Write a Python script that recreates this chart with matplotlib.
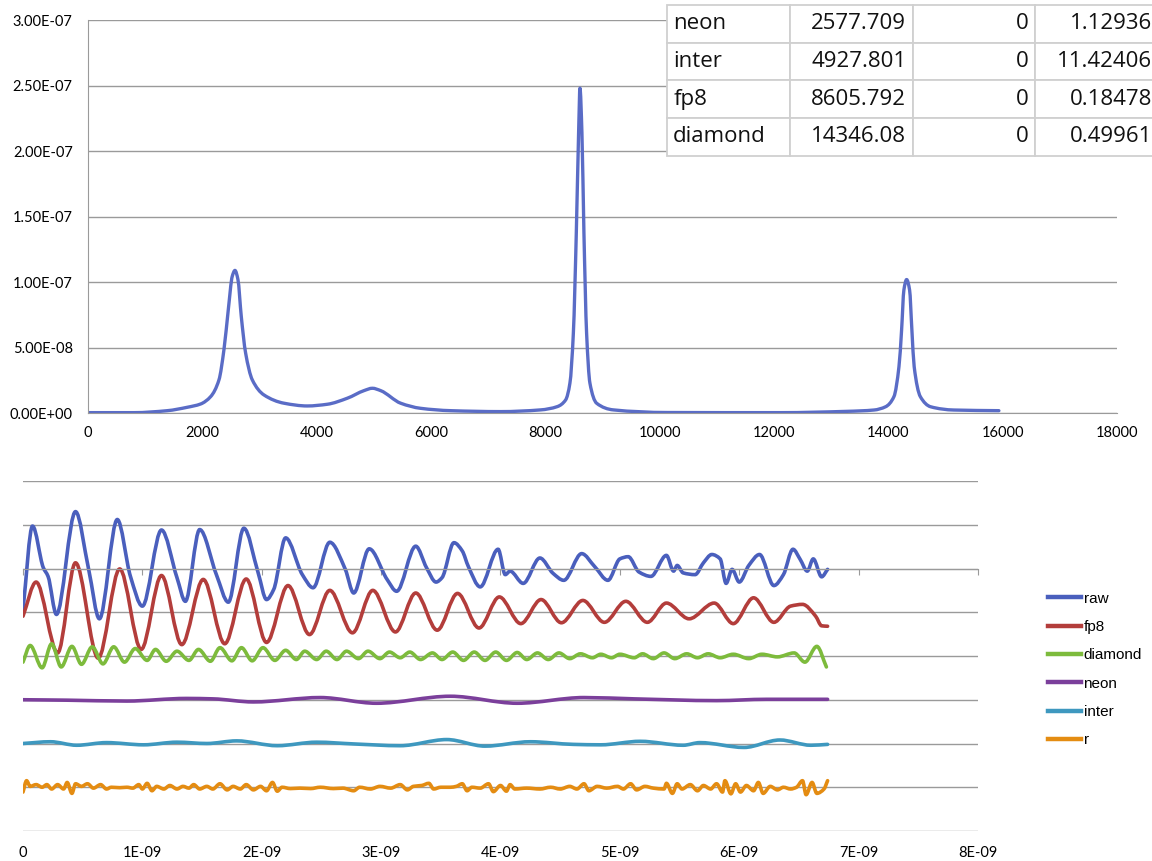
import numpy as np
import matplotlib
matplotlib.use("Agg")
import matplotlib.pyplot as plt
from matplotlib.path import Path
from matplotlib.patches import PathPatch
from matplotlib.lines import Line2D
from matplotlib.ticker import FuncFormatter, MultipleLocator
from matplotlib.table import Table

plt.rcParams["font.family"] = ["Lato", "DejaVu Sans"]

# ---- top: spectrum (wavenumber, intensity in 1e-8) ----
spec_x = [0, 805, 1387, 1737, 1970, 2145, 2291, 2378, 2454, 2524, 2571, 2623, 2681,
          2757, 2874, 3078, 3428, 3836, 4186, 4536, 4828, 4974, 5119, 5469, 5819,
          6344, 7219, 7918, 8209, 8355, 8430, 8490, 8542, 8582, 8606, 8640, 8675,
          8722, 8780, 8897, 9190, 10134, 12115, 13282, 13748, 13952, 14098, 14186,
          14232, 14272, 14320, 14372, 14412, 14452, 14560, 14739, 15147, 15934]
spec_y = [0.05, 0.05, 0.2, 0.46, 0.71, 1.27, 2.55, 4.85, 7.9, 10.46, 10.9, 10.2, 7.4,
          4.6, 2.55, 1.4, 0.77, 0.56, 0.69, 1.15, 1.73, 1.91, 1.73, 0.77, 0.38,
          0.2, 0.13, 0.26, 0.51, 1.02, 2.3, 6.1, 13.8, 21.4, 24.8, 21.4, 13.8,
          6.1, 2.3, 0.77, 0.26, 0.06, 0.05, 0.15, 0.25, 0.5, 1.27, 3.56,
          6.36, 9.4, 10.2, 9.4, 6.36, 3.56, 1.27, 0.5, 0.25, 0.2]

# fit table
tbl_names = ["neon", "inter", "fp8", "diamond"]
tbl_freq = ["2577.709", "4927.801", "8605.792", "14346.08"]
tbl_zero = ["0", "0", "0", "0"]
tbl_width = ["1.12936", "11.42406", "0.18478", "0.49961"]

# ---- bottom: time traces (t in ns, value relative to trace baseline) ----
raw_t = [0.00, 0.08, 0.17, 0.21, 0.28, 0.44, 0.55, 0.64, 0.79, 0.90, 1.00, 1.16, 1.29,
         1.36, 1.48, 1.62, 1.72, 1.85, 1.97, 2.04, 2.10, 2.20, 2.34, 2.43, 2.57, 2.70,
         2.77, 2.90, 3.05, 3.13, 3.29, 3.38, 3.46, 3.51, 3.61, 3.68, 3.73, 3.83, 3.98,
         4.04, 4.08, 4.19, 4.33, 4.44, 4.53, 4.68, 4.79, 4.90, 5.00, 5.07, 5.16, 5.26,
         5.39, 5.45, 5.48, 5.53, 5.63, 5.70, 5.77, 5.84, 5.89, 5.94, 6.00, 6.08, 6.17,
         6.29, 6.37, 6.45, 6.51, 6.57, 6.62, 6.69, 6.74]
raw_v = [-0.94, 0.97, 0.02, -0.18, -1.05, 1.30, -0.02, -1.15, 1.12, -0.18, -0.86, 0.88, -0.21,
         -0.75, 0.89, -0.14, -0.77, 0.92, -0.10, -0.71, -0.48, 0.70, -0.14, -0.44, 0.60, -0.02,
         -0.56, 0.45, -0.25, -0.52, 0.51, 0.02, -0.31, -0.21, 0.59, 0.40, 0.05, -0.42, 0.44,
         -0.14, -0.06, -0.34, 0.24, -0.11, -0.27, 0.34, 0.04, -0.27, 0.22, 0.27, -0.08, -0.18,
         0.30, -0.06, 0.07, -0.10, -0.14, 0.13, 0.32, 0.22, -0.34, -0.02, -0.31, 0.07, 0.32,
         -0.39, -0.14, 0.44, 0.21, -0.06, 0.22, -0.19, -0.02]

fp8_t = [0.00, 0.11, 0.29, 0.44, 0.63, 0.81, 0.99, 1.16, 1.33, 1.51, 1.69, 1.87, 2.04,
         2.22, 2.40, 2.57, 2.76, 2.93, 3.12, 3.29, 3.47, 3.64, 3.82, 3.99, 4.17, 4.34,
         4.51, 4.69, 4.87, 5.05, 5.23, 5.39, 5.58, 5.79, 5.95, 6.12, 6.29, 6.43, 6.53,
         6.64, 6.69, 6.74]
fp8_v = [-0.09, 0.69, -0.93, 1.13, -1.05, 0.99, -0.85, 0.84, -0.74, 0.75, -0.72, 0.76, -0.69,
         0.61, -0.51, 0.50, -0.47, 0.50, -0.45, 0.44, -0.41, 0.43, -0.36, 0.35, -0.26, 0.29,
         -0.24, 0.27, -0.23, 0.25, -0.23, 0.21, -0.15, 0.21, -0.26, 0.33, -0.23, 0.14, 0.18,
         -0.09, -0.31, -0.32]

diamond_t = [0.00, 0.06, 0.16, 0.24, 0.32, 0.41, 0.49, 0.58, 0.67, 0.76, 0.85, 0.94, 1.04,
             1.11, 1.20, 1.29, 1.39, 1.47, 1.57, 1.65, 1.75, 1.83, 1.92, 2.01, 2.11, 2.20,
             2.29, 2.36, 2.46, 2.54, 2.63, 2.71, 2.81, 2.89, 2.99, 3.07, 3.16, 3.24, 3.33,
             3.43, 3.51, 3.60, 3.69, 3.78, 3.87, 3.96, 4.05, 4.14, 4.22, 4.31, 4.40, 4.49,
             4.58, 4.67, 4.77, 4.84, 4.93, 5.00, 5.12, 5.19, 5.28, 5.37, 5.46, 5.56, 5.65,
             5.74, 5.84, 5.95, 6.08, 6.19, 6.32, 6.46, 6.55, 6.65, 6.73]
diamond_v = [-0.14, 0.24, -0.27, 0.28, -0.25, 0.22, -0.19, 0.21, -0.18, 0.21, -0.14, 0.17, -0.10,
             0.15, -0.12, 0.11, -0.10, 0.15, -0.12, 0.19, -0.11, 0.19, -0.11, 0.19, -0.10, 0.13,
             -0.08, 0.11, -0.08, 0.11, -0.08, 0.11, -0.06, 0.11, -0.06, 0.09, -0.04, 0.09, -0.08,
             0.07, -0.08, 0.09, -0.10, 0.09, -0.10, 0.09, -0.10, 0.08, -0.08, 0.07, -0.08, 0.07,
             -0.06, 0.05, -0.04, 0.04, -0.04, 0.04, -0.04, 0.05, -0.06, 0.07, -0.06, 0.05, -0.04,
             0.05, -0.04, 0.04, -0.06, 0.04, -0.02, 0.07, -0.14, 0.22, -0.25]

neon_t = [0.00, 0.37, 0.87, 1.37, 1.59, 1.93, 2.49, 2.96, 3.58, 4.14, 4.70, 5.12, 5.81, 6.23, 6.74]
neon_v = [0.00, -0.01, -0.03, 0.03, 0.02, -0.05, 0.05, -0.08, 0.08, -0.08, 0.05, 0.02, -0.02, 0.01, 0.01]

inter_t = [0.00, 0.23, 0.45, 0.70, 1.01, 1.29, 1.54, 1.79, 2.13, 2.46, 2.77, 3.16, 3.55, 3.87,
           4.25, 4.61, 4.84, 5.17, 5.53, 5.67, 6.04, 6.34, 6.60, 6.74]
inter_v = [0.00, 0.04, -0.04, 0.02, -0.03, 0.03, 0.00, 0.06, -0.05, 0.03, -0.01, -0.05, 0.09, -0.06,
           0.04, -0.02, -0.03, 0.05, -0.04, 0.02, -0.09, 0.08, -0.04, -0.02]

r_t = [0.00, 0.03, 0.06, 0.11, 0.16, 0.20, 0.24, 0.29, 0.34, 0.37, 0.41, 0.44, 0.49, 0.54,
       0.59, 0.65, 0.70, 0.74, 0.81, 0.87, 0.92, 0.97, 1.00, 1.04, 1.08, 1.12, 1.18, 1.23,
       1.29, 1.34, 1.39, 1.43, 1.48, 1.54, 1.59, 1.65, 1.71, 1.76, 1.82, 1.87, 1.93, 1.99,
       2.04, 2.09, 2.13, 2.17, 2.24, 2.32, 2.41, 2.49, 2.60, 2.68, 2.77, 2.82, 2.91, 2.99,
       3.08, 3.16, 3.22, 3.27, 3.34, 3.40, 3.44, 3.50, 3.58, 3.63, 3.68, 3.72, 3.76, 3.83,
       3.90, 3.94, 4.00, 4.05, 4.08, 4.12, 4.22, 4.33, 4.42, 4.50, 4.58, 4.64, 4.70, 4.74,
       4.81, 4.89, 4.98, 5.03, 5.09, 5.14, 5.21, 5.28, 5.37, 5.39, 5.44, 5.48, 5.52, 5.59,
       5.65, 5.70, 5.76, 5.81, 5.86, 5.88, 5.93, 5.97, 6.01, 6.06, 6.12, 6.16, 6.20, 6.26,
       6.32, 6.37, 6.43, 6.48, 6.53, 6.56, 6.61, 6.65, 6.71, 6.74]
r_v = [-0.11, 0.15, 0.02, 0.06, 0.00, 0.06, -0.04, 0.06, -0.04, 0.11, -0.14, 0.08, 0.02, 0.08,
       -0.02, 0.06, -0.04, 0.00, -0.01, 0.00, -0.02, 0.06, -0.04, 0.09, -0.08, 0.02, -0.04, 0.04,
       -0.04, 0.02, -0.02, 0.06, -0.04, 0.02, -0.04, 0.08, -0.06, 0.02, -0.04, 0.06, -0.06, 0.02,
       -0.08, 0.11, -0.09, 0.00, -0.03, -0.02, -0.03, 0.00, -0.03, -0.02, -0.08, 0.00, -0.04, 0.02,
       -0.02, 0.06, -0.06, 0.02, 0.04, 0.09, -0.04, 0.00, 0.00, 0.02, 0.08, -0.08, 0.00, -0.02,
       0.08, -0.10, 0.04, -0.09, 0.06, -0.04, -0.02, -0.04, 0.00, -0.04, 0.02, -0.04, 0.08, -0.08,
       0.02, -0.02, 0.02, -0.04, 0.08, -0.06, 0.02, -0.02, -0.04, 0.09, -0.14, 0.08, -0.04, 0.06,
       -0.08, 0.04, -0.04, 0.08, -0.11, 0.15, -0.15, 0.08, -0.11, 0.04, -0.08, 0.11, -0.14, 0.02,
       -0.06, 0.00, -0.04, 0.00, 0.15, -0.17, 0.11, -0.14, -0.04, 0.15]

trace_names = ["raw", "fp8", "diamond", "neon", "inter", "r"]
trace_offsets = [0, -1, -2, -3, -4, -5]
trace_colors = ["#4a5fbd", "#b33d3b", "#7dbb3c", "#7b3f9b", "#3e98bf", "#e48c12"]
traces = [(raw_t, raw_v), (fp8_t, fp8_v), (diamond_t, diamond_v),
          (neon_t, neon_v), (inter_t, inter_v), (r_t, r_v)]

grid_col = "#9a9a9a"


def smooth_path(x, y):
    # monotone cubic through the read points, drawn as bezier segments
    x = np.asarray(x, float)
    y = np.asarray(y, float)
    h = np.diff(x)
    d = np.diff(y) / h
    m = np.zeros_like(y)
    m[0], m[-1] = d[0], d[-1]
    for i in range(1, len(y) - 1):
        if d[i - 1] * d[i] > 0:
            w1 = 2 * h[i] + h[i - 1]
            w2 = h[i] + 2 * h[i - 1]
            m[i] = (w1 + w2) / (w1 / d[i - 1] + w2 / d[i])
    verts = [(x[0], y[0])]
    codes = [Path.MOVETO]
    for i in range(len(x) - 1):
        verts += [(x[i] + h[i] / 3, y[i] + m[i] * h[i] / 3),
                  (x[i + 1] - h[i] / 3, y[i + 1] - m[i + 1] * h[i] / 3),
                  (x[i + 1], y[i + 1])]
        codes += [Path.CURVE4] * 3
    return Path(verts, codes)


fig = plt.figure(figsize=(11.52, 8.61), dpi=100)
W, H = 1152, 861

# ---------------- top chart ----------------
ax1 = fig.add_axes([88 / W, 1 - 413.3 / H, (1117 - 88) / W, (413.3 - 20) / H])
ax1.set_xlim(0, 18000)
ax1.set_ylim(0, 3e-7)
ax1.xaxis.set_major_locator(MultipleLocator(2000))
ax1.yaxis.set_major_locator(MultipleLocator(5e-8))
ax1.yaxis.set_major_formatter(FuncFormatter(lambda v, p: f"{v:.2E}"))
ax1.grid(axis="y", color=grid_col, lw=1.0)
ax1.set_axisbelow(True)
for s in ["top", "right"]:
    ax1.spines[s].set_visible(False)
for s in ["left", "bottom"]:
    ax1.spines[s].set_color(grid_col)
ax1.tick_params(length=0, labelsize=10.5)
ax1.tick_params(axis="y", pad=11)
ax1.tick_params(axis="x", pad=9)
ax1.add_patch(PathPatch(smooth_path(spec_x, np.array(spec_y) * 1e-8), fill=False,
                        edgecolor="#5a6cc6", lw=2.4, capstyle="round", joinstyle="round"))

# table in the corner
tax = fig.add_axes([667 / W, 1 - 155.7 / H, (1158 - 667) / W, (155.7 - 5) / H])
tax.axis("off")
tb = Table(tax, bbox=[0, 0, 1, 1])
rows = list(zip(tbl_names, tbl_freq, tbl_zero, tbl_width))
nr = len(rows)
for i, row in enumerate(rows):
    for j, txt in enumerate(row):
        c = tb.add_cell(i, j, width=0.25, height=1 / nr, text=txt,
                        loc="left" if j == 0 else "right", facecolor="white")
        c.PAD = 0.05
        c.set_edgecolor("#d0d0d0")
        c.set_linewidth(1.3)
        c.get_text().set_fontsize(16)
        c.get_text().set_fontfamily("Open Sans")
        c.get_text().set_color("#111111")
tb.auto_set_font_size(False)
tax.add_table(tb)

# ---------------- bottom chart ----------------
ax2 = fig.add_axes([23 / W, 1 - 831 / H, (978 - 23) / W, (831 - 481) / H])
ax2.set_xlim(0, 8e-9)
ax2.set_ylim(-6, 2)
ax2.set_yticks(np.arange(-6, 3, 1))
ax2.xaxis.set_major_locator(MultipleLocator(1e-9))
ax2.grid(axis="y", color=grid_col, lw=1.0)
ax2.set_axisbelow(True)
for s in ["top", "right", "left"]:
    ax2.spines[s].set_visible(False)
ax2.spines["bottom"].set_position(("data", 0))
ax2.spines["bottom"].set_color(grid_col)
ax2.tick_params(axis="x", direction="out", length=4, color=grid_col, labelbottom=False)
ax2.tick_params(axis="y", length=0, labelleft=False)

# tick labels along the bottom edge via an overlay axes sharing x
lab_ax = fig.add_axes(ax2.get_position(), sharex=ax2, frameon=False)
lab_ax.patch.set_visible(False)
lab_ax.set_yticks([])
lab_ax.xaxis.set_major_formatter(FuncFormatter(lambda v, p: "0" if abs(v) < 1e-15 else f"{v:.0E}"))
lab_ax.tick_params(axis="x", length=0, labelsize=10.5, pad=11)

handles = []
for (tt, vv), off, col, name in zip(traces, trace_offsets, trace_colors, trace_names):
    path = smooth_path(np.array(tt) * 1e-9, np.array(vv) + off)
    ax2.add_patch(PathPatch(path, fill=False, edgecolor=col, lw=2.6,
                            capstyle="round", joinstyle="round"))
    handles.append(Line2D([], [], color=col, lw=3.2, label=name))

fig.legend(handles=handles, loc="upper left", bbox_to_anchor=(1040 / W, 1 - 584 / H),
           frameon=False, handlelength=2.2, handletextpad=0.15, labelspacing=0.94,
           borderpad=0, prop={"family": "Liberation Sans", "size": 11})

fig.savefig("out.png", dpi=100)
